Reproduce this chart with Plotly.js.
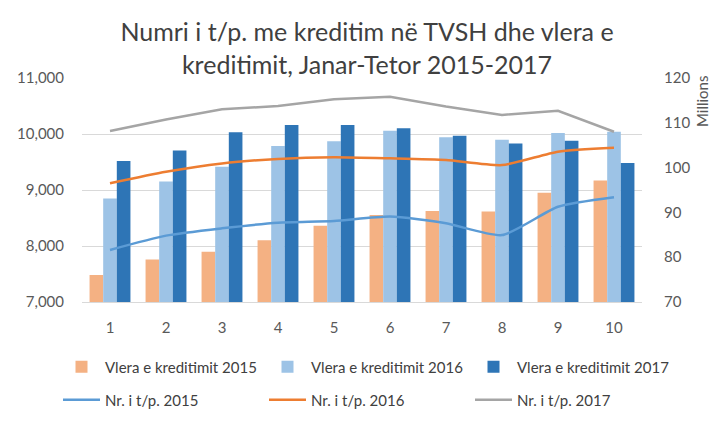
<!DOCTYPE html>
<html>
<head>
<meta charset="utf-8">
<script src="https://cdn.plot.ly/plotly-3.0.1.min.js"></script>
<style>html,body{margin:0;padding:0;background:#fff;}#chart{width:713px;height:423px;}</style>
</head>
<body>
<div id="chart"></div>
<script>
const months = ['1','2','3','4','5','6','7','8','9','10'];
const vlera2015 = [76.0, 79.5, 81.2, 83.8, 87.0, 89.4, 90.3, 90.2, 94.4, 97.1];
const vlera2016 = [93.1, 96.9, 100.2, 104.8, 105.9, 108.2, 106.8, 106.2, 107.7, 108.0];
const vlera2017 = [101.5, 103.8, 107.9, 109.5, 109.5, 108.8, 107.1, 105.4, 106.0, 101.0];
const nr2015 = [7930, 8185, 8315, 8415, 8445, 8525, 8405, 8195, 8700, 8870];
const nr2016 = [9120, 9325, 9475, 9555, 9585, 9565, 9535, 9445, 9685, 9755];
const nr2017 = [10055, 10260, 10440, 10500, 10620, 10665, 10490, 10340, 10415, 10040];

const FONT = 'Lato, "Open Sans", sans-serif';
const traces = [
  {type:'bar', name:'Vlera e kreditimit 2015', x:months, y:vlera2015, yaxis:'y', marker:{color:'#F4B183'}, legend:'legend'},
  {type:'bar', name:'Vlera e kreditimit 2016', x:months, y:vlera2016, yaxis:'y', marker:{color:'#9DC3E6'}, legend:'legend2'},
  {type:'bar', name:'Vlera e kreditimit 2017', x:months, y:vlera2017, yaxis:'y', marker:{color:'#2E75B6'}, legend:'legend3'},
  {type:'scatter', mode:'lines', name:'Nr. i t/p. 2015', x:months, y:nr2015, yaxis:'y2', line:{color:'#5B9BD5', width:2.5, shape:'spline', smoothing:0.6}, legend:'legend4'},
  {type:'scatter', mode:'lines', name:'Nr. i t/p. 2016', x:months, y:nr2016, yaxis:'y2', line:{color:'#ED7D31', width:2.5, shape:'spline', smoothing:0.6}, legend:'legend5'},
  {type:'scatter', mode:'lines', name:'Nr. i t/p. 2017', x:months, y:nr2017, yaxis:'y2', line:{color:'#A5A5A5', width:2.5}, legend:'legend6'}
];

function leg(xpx, ypx) {
  return {
    orientation:'h', xref:'container', yref:'container', xanchor:'left', yanchor:'middle',
    x: xpx/713, y: 1 - ypx/423, itemwidth:37,
    font:{family:FONT, size:15, color:'#404040'}, bgcolor:'rgba(0,0,0,0)'
  };
}

const layout = {
  width:713, height:423,
  margin:{l:82, r:71, t:78, b:121},
  paper_bgcolor:'#fff', plot_bgcolor:'#fff',
  font:{family:FONT, color:'#595959'},
  title:{text:'Numri i t/p. me kreditim në TVSH dhe vlera e<br>kreditimit, Janar-Tetor 2015-2017',
         font:{family:FONT, size:25, color:'#404040'}, x:(367-82)/560, xanchor:'center', xref:'paper',
         y:1-41/423, yanchor:'middle'},
  barmode:'group', bargap:0.27, bargroupgap:0,
  xaxis:{type:'category', showgrid:false, showline:true, linecolor:'#D9D9D9', linewidth:1,
         tickfont:{size:15, color:'#595959'}, ticks:'', ticklabelstandoff:12},
  yaxis:{side:'right', range:[70,120], dtick:10, showgrid:false, zeroline:false,
         tickfont:{size:15, color:'#595959'}, ticklabelstandoff:21},
  yaxis2:{overlaying:'y', side:'left', range:[7000,11000], dtick:1000, tickformat:',',
          showgrid:true, gridcolor:'#D9D9D9', gridwidth:1, zeroline:false,
          tickfont:{size:15, color:'#595959'}, ticklabelstandoff:17},
  legend:leg(58, 367), legend2:leg(264, 367), legend3:leg(470, 367),
  legend4:leg(58, 400), legend5:leg(264, 400), legend6:leg(470, 400),
  annotations:[{text:'Millions', xref:'paper', yref:'paper', x:(702-82)/(713-153), y:(302-102)/224,
                textangle:-90, showarrow:false, font:{family:FONT, size:15, color:'#595959'},
                xanchor:'center', yanchor:'middle'}],
  showlegend:true
};

Plotly.newPlot('chart', traces, layout, {displayModeBar:false, staticPlot:true});
</script>
</body>
</html>
